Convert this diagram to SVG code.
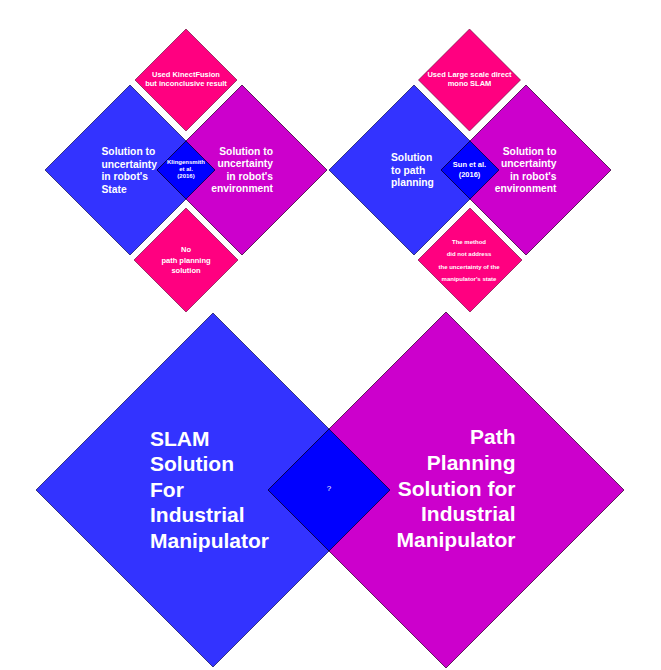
<svg xmlns="http://www.w3.org/2000/svg" width="661" height="670" viewBox="0 0 661 670">
<style>
.bg{fill:#ffffff}
.blue{fill:#3333FF;stroke:#1a1a66;stroke-width:0.8}
.purple{fill:#CC00CC;stroke:#3a003a;stroke-width:0.8}
.core{fill:#0000FF;stroke:#00003a;stroke-width:0.8}
.pink{fill:#FF0080;stroke:#5a0030;stroke-width:0.6}
text{font-family:"Liberation Sans",Arial,sans-serif;fill:#ffffff;font-weight:bold}
.m{text-anchor:middle}
.e{text-anchor:end}
.t11{font-size:10.3px}
.t7{font-size:7.5px}
.t6{font-size:6px}
.t21{font-size:21px}
</style>
<rect class="bg" x="0" y="0" width="661" height="670"/>

<!-- Top-left cluster -->
<g id="tl-state">
<polygon class="blue" points="130,85 215,170 130,255 45,170"/>
<text class="t11" x="101.5" y="155.3">Solution to</text>
<text class="t11" x="101.5" y="167.6">uncertainty</text>
<text class="t11" x="101.5" y="180.2">in robot's</text>
<text class="t11" x="101.5" y="192.6">State</text>
</g>
<g id="tl-env">
<polygon class="purple" points="242,85 327,170 242,255 157,170"/>
<text class="t11 e" x="273" y="154.8">Solution to</text>
<text class="t11 e" x="273" y="167.2">uncertainty</text>
<text class="t11 e" x="273" y="179.6">in robot's</text>
<text class="t11 e" x="273" y="192.2">environment</text>
</g>
<g id="tl-core">
<polygon class="core" points="186,141 215,170 186,199 157,170"/>
<text class="t6 m" x="186" y="163.5">Klingensmith</text>
<text class="t6 m" x="186" y="170.5">et al.</text>
<text class="t6 m" x="186" y="177.5">(2016)</text>
</g>
<g id="tl-top">
<polygon class="pink" points="186,29 237,80 186,131 135,80"/>
<text class="t7 m" x="186" y="76.8">Used KinectFusion</text>
<text class="t7 m" x="186" y="86.2">but inconclusive result</text>
</g>
<g id="tl-bottom">
<polygon class="pink" points="186,208 238,260 186,312 134,260"/>
<text class="t7 m" x="186" y="251.5">No</text>
<text class="t7 m" x="186" y="262.5">path planning</text>
<text class="t7 m" x="186" y="273">solution</text>
</g>

<!-- Top-right cluster -->
<g id="tr-path">
<polygon class="blue" points="414,85 499,170 414,255 329,170"/>
<text class="t11" x="391" y="161">Solution</text>
<text class="t11" x="391" y="173.8">to path</text>
<text class="t11" x="391" y="186">planning</text>
</g>
<g id="tr-env">
<polygon class="purple" points="526,85 611,170 526,255 441,170"/>
<text class="t11 e" x="556.5" y="154.6">Solution to</text>
<text class="t11 e" x="556.5" y="167">uncertainty</text>
<text class="t11 e" x="556.5" y="179.6">in robot's</text>
<text class="t11 e" x="556.5" y="192.2">environment</text>
</g>
<g id="tr-core">
<polygon class="core" points="470,141 499,170 470,199 441,170"/>
<text class="m" x="469.5" y="167" style="font-size:7.5px">Sun et al.</text>
<text class="m" x="469.5" y="177" style="font-size:7.5px">(2016)</text>
</g>
<g id="tr-top">
<polygon class="pink" points="469.5,29 520.5,80 469.5,131 418.5,80"/>
<text class="t7 m" x="469.5" y="76.8">Used Large scale direct</text>
<text class="t7 m" x="469.5" y="86.2">mono SLAM</text>
</g>
<g id="tr-bottom">
<polygon class="pink" points="470,208 522,260 470,312 418,260"/>
<text class="t6 m" x="469" y="243.8">The method</text>
<text class="t6 m" x="469" y="256.4">did not address</text>
<text class="t6 m" x="469" y="268.8">the uncertainty of the</text>
<text class="t6 m" x="469" y="281.1">manipulator's state</text>
</g>

<!-- Bottom cluster -->
<g id="slam">
<polygon class="blue" points="213,313 390,490 213,667 36,490"/>
<text class="t21" x="150" y="445.5">SLAM</text>
<text class="t21" x="150" y="471">Solution</text>
<text class="t21" x="150" y="496.5">For</text>
<text class="t21" x="150" y="522">Industrial</text>
<text class="t21" x="150" y="547.5">Manipulator</text>
</g>
<g id="pathplanning">
<polygon class="purple" points="446,312 624,490 446,668 268,490"/>
<text class="t21 e" x="515.5" y="444">Path</text>
<text class="t21 e" x="515.5" y="469.5">Planning</text>
<text class="t21 e" x="515.5" y="495.5">Solution for</text>
<text class="t21 e" x="515.5" y="521">Industrial</text>
<text class="t21 e" x="515.5" y="547">Manipulator</text>
</g>
<g id="unknown">
<polygon class="core" points="329,429 390,490 329,551 268,490"/>
<text class="m" x="329" y="491" style="font-size:8px;font-weight:normal">?</text>
</g>
</svg>
